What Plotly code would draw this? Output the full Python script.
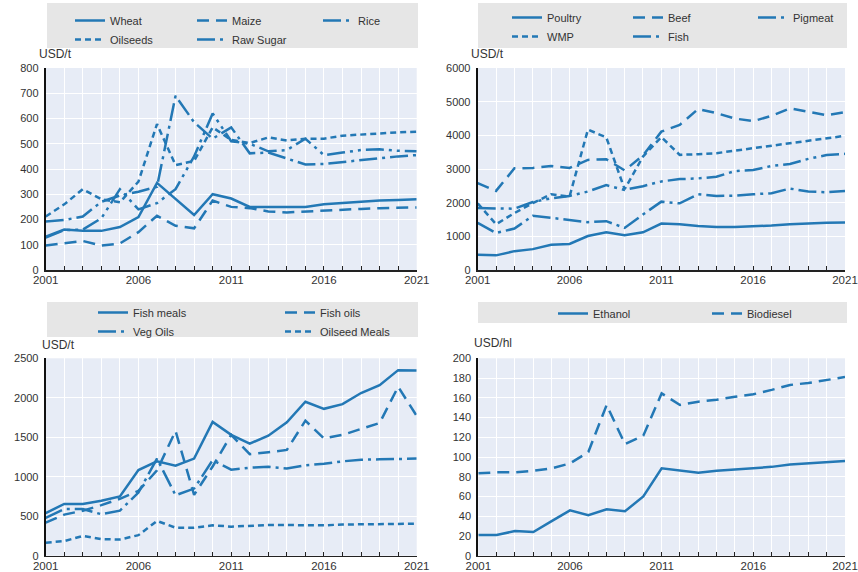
import plotly.graph_objects as go

# ---------------- data ----------------
years = list(range(2001, 2022))
x_tick_labels = ["2001", "2006", "2011", "2016", "2021"]

# Panel 1 (USD/t)
wheat = [132, 160, 155, 155, 170, 210, 345, 280, 218, 300, 283, 250, 250, 250, 250, 260, 265, 272, 275, 277, 280]
maize = [97, 105, 115, 97, 105, 150, 215, 175, 165, 275, 250, 245, 232, 228, 232, 235, 238, 242, 245, 247, 248]
rice = [192, 198, 212, 270, 295, 310, 330, 690, 585, 520, 565, 462, 465, 440, 418, 420, 428, 435, 443, 450, 455]
oilseeds = [212, 260, 320, 280, 268, 350, 578, 415, 432, 565, 515, 503, 525, 513, 520, 520, 532, 537, 542, 545, 548]
raw_sugar = [128, 158, 160, 205, 320, 240, 265, 320, 450, 620, 510, 500, 470, 475, 520, 455, 465, 475, 478, 472, 470]

# Panel 2 (USD/t)
poultry = [450, 435, 560, 620, 750, 775, 1010, 1120, 1035, 1120, 1380, 1360, 1310, 1275, 1275, 1290, 1320, 1360, 1385, 1405, 1410]
beef = [2580, 2350, 3020, 3030, 3090, 3030, 3270, 3290, 2960, 3400, 4110, 4310, 4780, 4660, 4500, 4420, 4580, 4800, 4700, 4600, 4690]
pigmeat = [1400, 1100, 1230, 1610, 1550, 1480, 1420, 1450, 1250, 1650, 2030, 1980, 2250, 2200, 2210, 2250, 2280, 2420, 2330, 2310, 2350]
wmp = [1980, 1360, 1690, 1990, 2250, 2180, 4170, 3940, 2400, 3370, 3950, 3420, 3440, 3470, 3545, 3615, 3695, 3765, 3835, 3910, 3985]
fish = [1840, 1830, 1820, 2020, 2130, 2200, 2330, 2520, 2380, 2490, 2630, 2700, 2720, 2770, 2940, 2970, 3090, 3150, 3300, 3415, 3450]

# Panel 3 (USD/t)
fish_meals = [540, 655, 655, 695, 750, 1085, 1195, 1140, 1230, 1695, 1530, 1420, 1520, 1690, 1950, 1860, 1920, 2060, 2160, 2350, 2345]
fish_oils = [420, 520, 570, 640, 720, 820, 1080, 1580, 770, 1130, 1530, 1285, 1310, 1340, 1710, 1485, 1530, 1605, 1680, 2140, 1770]
veg_oils = [480, 590, 590, 525, 570, 800, 1230, 765, 850, 1210, 1090, 1115, 1125, 1105, 1145, 1165, 1195, 1215, 1220, 1225, 1230]
oilseed_meals = [165, 185, 250, 210, 205, 260, 440, 355, 355, 385, 368, 380, 388, 388, 388, 385, 395, 397, 400, 402, 405]

# Panel 4 (USD/hl)
ethanol = [21, 21, 25, 24, 35, 46, 41, 47, 45, 60, 88.5, 86, 84, 86, 87.5, 89, 90, 92.5, 93.5, 94.5, 96]
biodiesel = [83.5, 84.5, 84.5, 86, 88.5, 93.5, 105, 152.7, 113, 121.6, 164.5, 152.7, 156, 158, 161, 163.5, 168, 173, 175, 178, 181]

# ---------------- styling ----------------
W, H = 858, 572
OFF = 0  # body margin removed by post_script below
BLUE = "#2378b5"
TXT = "#333333"
FONT = "Liberation Sans, Arial, sans-serif"
DASH = {
    "solid": "solid",
    "long": "12px,7px",
    "dashdot": "18px,5px,3px,5px",
    "short": "6px,4px",
    "dashdotdot": "18px,5px,3px,5px,3px,5px",
}

def fx(p):
    return (p - OFF) / W

def fy(p):
    return 1 - (p - OFF) / H

panels = [
    dict(x=(45.7, 416.7), y=(68, 270), rng=[0, 800], dt=100, unit="USD/t", unit_xy=(37, 54),
         box=(47, 3, 418, 48)),
    dict(x=(477.7, 845), y=(68, 270), rng=[0, 6000], dt=1000, unit="USD/t", unit_xy=(469, 54),
         box=(478, 3, 847, 48)),
    dict(x=(45.7, 416.7), y=(358.3, 555.7), rng=[0, 2500], dt=500, unit="USD/t", unit_xy=(40, 345),
         box=(47, 302, 418, 337)),
    dict(x=(478.3, 845), y=(358.3, 555.7), rng=[0, 200], dt=20, unit="USD/hl", unit_xy=(472, 343),
         box=(478, 302, 847, 323)),
]

series = [
    # panel, name, values, dash, legend id
    (1, "Wheat", wheat, "solid", "legend"),
    (1, "Maize", maize, "long", "legend2"),
    (1, "Rice", rice, "dashdot", "legend3"),
    (1, "Oilseeds", oilseeds, "short", "legend"),
    (1, "Raw Sugar", raw_sugar, "dashdotdot", "legend2"),
    (2, "Poultry", poultry, "solid", "legend4"),
    (2, "Beef", beef, "long", "legend5"),
    (2, "Pigmeat", pigmeat, "dashdot", "legend6"),
    (2, "WMP", wmp, "short", "legend4"),
    (2, "Fish", fish, "dashdotdot", "legend5"),
    (3, "Fish meals", fish_meals, "solid", "legend7"),
    (3, "Fish oils", fish_oils, "long", "legend8"),
    (3, "Veg Oils", veg_oils, "dashdot", "legend7"),
    (3, "Oilseed Meals", oilseed_meals, "short", "legend8"),
    (4, "Ethanol", ethanol, "solid", "legend9"),
    (4, "Biodiesel", biodiesel, "long", "legend10"),
]

# legend positions: (text-left x px, first-row centre y px)
legend_pos = {
    "legend": (110, 20), "legend2": (232, 20), "legend3": (358, 20),
    "legend4": (547, 17), "legend5": (668, 17), "legend6": (793, 17),
    "legend7": (133, 312), "legend8": (320, 312),
    "legend9": (593, 313), "legend10": (747, 313),
}

fig = go.Figure()
for p, name, vals, dash, lid in series:
    sfx = "" if p == 1 else str(p)
    fig.add_trace(go.Scatter(
        x=years, y=vals, mode="lines", name=name,
        line=dict(color=BLUE, width=2.5, dash=DASH[dash]),
        xaxis="x" + sfx, yaxis="y" + sfx, legend=lid, hoverinfo="skip",
    ))

layout = dict(
    width=W, height=H,
    margin=dict(l=0, r=0, t=0, b=0, autoexpand=False),
    paper_bgcolor="white",
    plot_bgcolor="#e7ecf6",
    font=dict(family=FONT, size=11, color=TXT),
    showlegend=True,
    shapes=[], annotations=[],
)

tick_text = [str(y) if str(y) in x_tick_labels else "" for y in years]

for i, pn in enumerate(panels, start=1):
    sfx = "" if i == 1 else str(i)
    x0, x1 = pn["x"]
    ytop, ybot = pn["y"]
    layout["xaxis" + sfx] = dict(
        domain=[fx(x0), fx(x1)], range=[2001, 2021], anchor="y" + sfx,
        tickmode="array", tickvals=years, ticktext=tick_text,
        showgrid=True, gridcolor="white", gridwidth=1,
        showline=True, linecolor="#222222", linewidth=1.5,
        ticks="inside", ticklen=4, tickcolor="#222222", tickwidth=1,
        ticklabelstandoff=-1, ticklabeloverflow="allow",
        zeroline=False, tickfont=dict(size=11.5, color=TXT), fixedrange=True,
        automargin=False,
    )
    layout["yaxis" + sfx] = dict(
        domain=[fy(ybot), fy(ytop)], range=pn["rng"], dtick=pn["dt"], anchor="x" + sfx,
        showgrid=True, gridcolor="white", gridwidth=1,
        showline=True, linecolor="#111111", linewidth=2,
        ticks="", zeroline=False, ticklabelstandoff=3,
        tickfont=dict(size=11, color=TXT), fixedrange=True,
        automargin=False,
    )
    bx0, by0, bx1, by1 = pn["box"]
    layout["shapes"].append(dict(
        type="rect", xref="paper", yref="paper",
        x0=fx(bx0), x1=fx(bx1), y0=fy(by1), y1=fy(by0),
        fillcolor="#e6e6e6", line=dict(width=0), layer="below",
    ))
    ux, uy = pn["unit_xy"]
    layout["annotations"].append(dict(
        text=pn["unit"], xref="paper", yref="paper", x=fx(ux), y=fy(uy),
        xanchor="left", yanchor="middle", showarrow=False,
        font=dict(size=12, color=TXT),
    ))

for lid, (tx, ty) in legend_pos.items():
    layout[lid] = dict(
        x=fx(tx - 40), y=fy(ty - 14), xanchor="left", yanchor="top",
        orientation="v", bgcolor="rgba(0,0,0,0)", borderwidth=0,
        font=dict(size=11, color=TXT, family=FONT), tracegroupgap=0,
        itemclick=False, itemdoubleclick=False,
    )

fig.update_layout(**layout)
fig.write_html(
    "out.html",
    config={"displayModeBar": False, "staticPlot": True},
    post_script="document.body.style.margin='0';document.body.style.overflow='hidden';",
)
